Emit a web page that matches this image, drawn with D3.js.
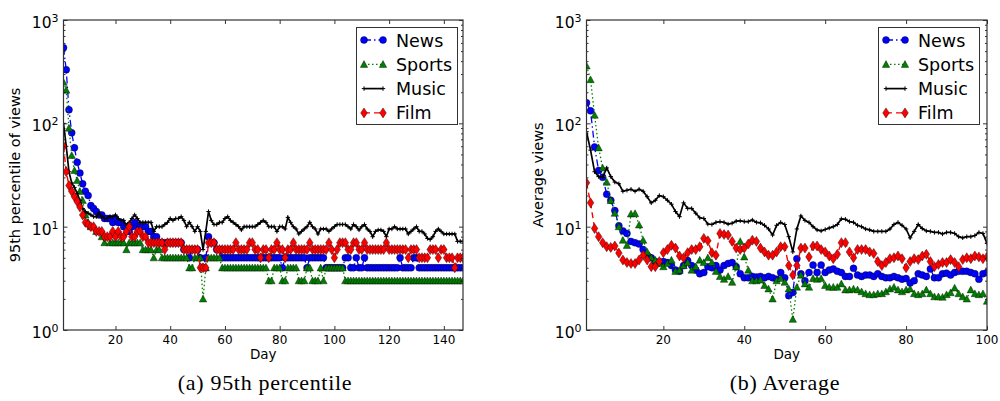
<!DOCTYPE html>
<html>
<head>
<meta charset="utf-8">
<script src="https://cdn.jsdelivr.net/npm/d3@7"></script>
<style>
  body { margin: 0; background: #fff; }
  svg { display: block; }
  text { font-family: "DejaVu Sans", sans-serif; fill: #000; }
</style>
</head>
<body>
<script>
// series names (legend order = draw order)
var seriesNames = ["News", "Sports", "Music", "Film"];

// (a) 95th percentile, days 1..147
var pctNews = [540,330,135,81,58,42,33,26,22,20,
  16,15,14,13,13,12,12,12,11,12,
  11,11,10,10,9,10,11,10,10,10,
  10,9,9,8,8,7,7,7,7,7,
  7,7,7,7,6,6,5,6,6,6,
  5,4,5,8,7,7,6,6,5,5,
  5,5,5,5,5,5,5,5,5,5,
  5,5,5,5,5,5,5,5,5,5,
  4,5,5,5,5,5,5,5,5,4,
  5,5,5,5,5,5,4,4,4,4,
  4,4,4,5,5,4,4,5,4,4,
  5,4,4,4,4,4,4,4,4,4,
  4,4,4,5,4,4,4,4,5,5,
  4,4,4,4,4,4,4,4,4,4,
  4,4,4,4,4,4,4];
var pctSports = [250,210,90,49,35,28,22,18,13,11,
  10,10,9,9,8,7,8,7,7,7,
  7,7,7,6,7,7,7,7,7,6,
  6,6,6,5,6,6,5,5,5,5,
  5,5,5,5,5,5,4,4,5,5,
  5,2,4,5,5,5,5,5,4,4,
  4,4,4,4,4,4,4,4,4,4,
  4,4,4,4,4,3,3,4,4,4,
  3,3,4,4,4,4,3,3,3,4,
  4,3,3,3,4,3,4,4,4,4,
  4,4,4,3,3,3,3,3,3,3,
  3,3,3,3,3,3,3,3,3,3,
  3,3,3,3,3,3,3,3,3,3,
  3,3,3,3,3,3,3,3,3,3,
  3,3,3,3,3,3,3];
var pctMusic = [100,60,34,26.5,24,21,18,15,14,13.5,
  13,12.5,12.5,13.5,12.5,12,12,12.5,12.5,13,
  12,11.5,11.5,10.3,11,12,13,12,11,11,
  11,11,11,9,10,10,10,10.5,11,12,
  11.5,12,12,12.5,11.5,10,11,10,9,10,
  9,6,9,14,11.5,10.5,10.5,11,11,12,
  12.5,11.5,11,10.5,10,9.3,10,10,10,10,
  10,10.5,11,11.5,11,10,10,10,9,10,
  10,9.5,12.3,11,10,9.5,8.5,9,9.5,10,
  11,10,9.5,8.5,9.5,9.5,9.5,9,9.5,10,
  10.5,10.5,10.5,10.5,10,9.5,10.5,10,9.3,10,
  10.5,9.5,9,8,9,9.3,9.3,9,8,9.5,
  9.5,10,9.5,9.5,9.5,9.5,8.5,9,9.5,10,
  9,9,8.5,7.7,7.5,8,9,9.5,9,8.5,
  8.5,8.5,8.5,8.5,7.2,7.2,7.2];
var pctFilm = [60,34,25,22,19.5,17.5,15.5,13,11,10.5,
  10,10,9,9,9,8,8,8,9,8,
  9,8,8,9,10,8,8,9,9,8,
  8,7,7,7,7,7,7,6,7,7,
  7,7,7,7,6,6,6,6,6,6,
  4,4,4,7,7,7,6,6,6,6,
  6,6,6,7,6,6,6,6,7,7,
  6,6,5,6,6,5,6,6,7,6,
  6,5,6,6,7,6,6,6,6,6,
  7,6,6,6,6,6,6,7,6,5,
  6,7,7,7,6,6,7,7,6,6,
  7,6,6,6,6,6,6,6,7,6,
  6,6,6,6,6,6,5,6,6,6,
  5,5,5,5,6,6,6,5,6,6,
  5,5,5,4,5,5,5];

// (b) Average, days 1..100
var avgNews = [158,132,59,35,30,20.6,18,14.3,10.2,9.1,
  8.6,7.2,7.0,6.8,6.0,5.3,5.0,4.6,4.5,4.6,
  4.5,4.2,3.8,3.7,4.2,4.7,4.2,3.8,3.5,3.6,
  4.1,4.0,4.2,3.8,4.2,4.4,4.5,4.1,3.5,3.2,
  3.2,3.3,3.25,3.3,3.2,3.3,3.2,3.1,3.6,3.2,
  2.15,2.3,4.9,3.5,3.0,3.6,4.25,3.6,4.25,3.6,
  3.8,3.9,3.7,3.6,3.3,3.3,3.95,3.4,3.3,3.4,
  3.4,3.3,3.5,3.3,3.2,3.2,3.3,3.2,3.1,3.15,
  2.85,3.0,3.5,3.4,3.3,3.9,3.2,3.2,3.5,3.55,
  3.4,3.6,3.7,3.7,3.7,3.6,3.5,3.1,3.5,3.6];
var avgSports = [360,265,120,58,37,27,18,13.5,10,7.4,
  6.6,13.3,13.4,10.4,7.4,5.7,5.0,4.75,4.4,4.1,
  4.4,4.75,3.7,3.8,4.2,4.5,3.8,4.1,4.75,4.5,
  5.0,4.5,3.7,3.3,3.1,3.3,2.9,4.1,7.2,5.1,
  3.8,3.0,3.0,3.05,2.7,2.5,2.0,3.0,3.15,2.9,
  2.5,1.27,2.6,3.4,2.8,2.6,3.15,3.1,3.15,2.7,
  2.6,2.6,2.6,2.8,2.45,2.45,2.5,2.45,2.35,2.25,
  2.2,2.2,2.25,2.25,2.35,2.5,2.6,2.45,2.35,2.45,
  2.5,2.25,2.2,2.25,2.45,2.25,2.1,2.1,2.08,2.2,
  2.3,2.55,2.25,2.1,2.0,2.45,2.25,2.2,2.25,1.9];
var avgMusic = [83,55,34,30.5,30,37,30.5,27,26,22,
  22.5,23,22,23,22,19.5,17,18,20,19.5,
  18,16.5,14,12.5,17,15,15,13.5,12.2,12,
  10.6,10.5,11,11.2,11,10.6,10.8,11.3,11.4,11.2,
  11.2,11.6,11.0,10.9,10.3,9.5,8.3,10.3,11,10.5,
  8,5.7,9.5,12.7,11.5,11,10,9.3,9.1,9.4,
  9.7,10,10.5,11.9,11.8,11.2,11,10.3,10,9.5,
  9.3,9,9,9,9,9.5,10.5,11,10.3,9.5,
  7.8,9,10.5,9.6,9.1,9,8.8,8.8,8.5,8.8,
  8.8,8.6,8,7.8,8,8,8.2,8.8,8.6,6.9];
var avgFilm = [26.6,17,9.6,8,7,6.4,6.3,6.5,5.55,4.75,
  4.5,4.4,4.4,4.75,5.3,4.75,4.1,4.1,4.6,5.6,
  6.0,6.6,6.2,5.2,5.0,5.6,6.0,6.0,6.4,7.7,
  7.3,5.6,5.3,8.6,8.4,8.3,7.2,6.2,6.0,6.2,
  6.8,7.4,7.2,6.2,5.7,5.3,5.3,5.7,6.4,6.4,
  4.2,3.4,4.2,6.2,6.2,5.1,6.5,6.5,6.0,5.7,
  5.2,4.9,5.4,7.0,7.0,5.7,5.0,6.0,6.0,6.0,
  5.7,5.5,4.6,4.2,4.5,4.9,5.0,5.2,4.9,4.0,
  4.6,4.9,4.8,5.2,5.4,4.6,4.1,4.3,4.5,4.5,
  4.8,4.5,4.1,4.8,5.0,4.9,5.2,5.1,4.9,5.1];

var pctXTicks = [20, 40, 60, 80, 100, 120, 140];
var avgXTicks = [20, 40, 60, 80, 100];
var yMajor = [1, 10, 100, 1000];
var yMinor = [2,3,4,5,6,7,8,9,20,30,40,50,60,70,80,90,200,300,400,500,600,700,800,900];

// one style per series
var styles = [
  {color: "#0000ff", dash: "7,3,1.5,3", marker: "circle", width: 1.3},
  {color: "#008000", dash: "1.5,2.5", marker: "triangle", width: 1.3},
  {color: "#000000", dash: null, marker: "plus", width: 1.7},
  {color: "#ff0000", dash: "6,4", marker: "diamond", width: 1.4}
];

var svg = d3.select("body").append("svg")
  .attr("width", 1000)
  .attr("height", 401);

function drawMarker(sel, kind, color) {
  if (kind === "circle") {
    sel.append("circle").attr("r", 3.5)
      .attr("fill", color).attr("stroke", "#000").attr("stroke-width", 0.4);
  } else if (kind === "triangle") {
    sel.append("path").attr("d", "M0,-3.7L3.7,3.1L-3.7,3.1Z")
      .attr("fill", color).attr("stroke", "#000").attr("stroke-width", 0.4);
  } else if (kind === "diamond") {
    sel.append("path").attr("d", "M0,-5L3.3,0L0,5L-3.3,0Z")
      .attr("fill", color).attr("stroke", "#000").attr("stroke-width", 0.4);
  } else {
    sel.append("path").attr("d", "M-2.2,0H2.2M0,-2.2V2.2")
      .attr("stroke", color).attr("stroke-width", 1).attr("fill", "none");
  }
}

function drawPanel(p, idx) {
  var top = 20, bottom = 330;
  var x = d3.scaleLinear().domain([1, p.days]).range([p.left, p.right]);
  var y = d3.scaleLog().domain([1, 1000]).range([bottom, top]);
  var g = svg.append("g");

  var clipId = "clip" + idx;
  svg.append("clipPath").attr("id", clipId)
    .append("rect")
    .attr("x", p.left).attr("y", top)
    .attr("width", p.right - p.left).attr("height", bottom - top);

  var plot = g.append("g").attr("clip-path", "url(#" + clipId + ")");

  p.series.forEach(function(vals, i) {
    var st = styles[i];
    var pts = vals.map(function(v, k) { return {day: k + 1, v: v}; });
    var line = d3.line().x(d => x(d.day)).y(d => y(d.v));
    plot.append("path")
      .datum(pts)
      .attr("d", line)
      .attr("fill", "none")
      .attr("stroke", st.color)
      .attr("stroke-width", st.width)
      .attr("stroke-dasharray", st.dash);
    var mk = plot.append("g").selectAll("g")
      .data(pts)
      .enter()
      .append("g")
      .attr("transform", d => `translate(${x(d.day)},${y(d.v)})`);
    drawMarker(mk, st.marker, st.color);
  });

  // ticks (inward) on all four sides
  function ticks(axis, tr, vals, size) {
    var a = g.append("g").attr("transform", tr)
      .call(axis.tickValues(vals).tickSize(-size).tickSizeOuter(0).tickFormat(""));
    a.select(".domain").remove();
    a.selectAll("line").attr("stroke", "#000").attr("stroke-width", 0.8);
  }
  ticks(d3.axisLeft(y), `translate(${p.left},0)`, yMajor, 4);
  ticks(d3.axisLeft(y), `translate(${p.left},0)`, yMinor, 2);
  ticks(d3.axisRight(y), `translate(${p.right},0)`, yMajor, 4);
  ticks(d3.axisRight(y), `translate(${p.right},0)`, yMinor, 2);
  ticks(d3.axisBottom(x), `translate(0,${bottom})`, p.xticks, 4);
  ticks(d3.axisTop(x), `translate(0,${top})`, p.xticks, 4);

  // frame
  g.append("rect")
    .attr("x", p.left).attr("y", top)
    .attr("width", p.right - p.left).attr("height", bottom - top)
    .attr("fill", "none").attr("stroke", "#333").attr("stroke-width", 1.2);

  // y tick labels 10^k
  yMajor.forEach(function(v) {
    var t = g.append("text")
      .attr("x", p.left - 5)
      .attr("y", y(v) + 8)
      .attr("text-anchor", "end")
      .style("font-size", "15.5px");
    t.append("tspan").text("10");
    t.append("tspan").attr("dy", -6).style("font-size", "11px").text(Math.round(Math.log10(v)));
  });

  // x tick labels
  p.xticks.forEach(function(v) {
    g.append("text")
      .attr("x", x(v)).attr("y", bottom + 14)
      .attr("text-anchor", "middle")
      .style("font-size", "12px")
      .text(v);
  });

  g.append("text")
    .attr("x", (p.left + p.right) / 2).attr("y", 359)
    .attr("text-anchor", "middle")
    .style("font-size", "13.5px")
    .text("Day");

  g.append("text")
    .attr("transform", `translate(${p.ylabelX},${(top + bottom) / 2}) rotate(-90)`)
    .attr("text-anchor", "middle")
    .style("font-size", "14.5px")
    .text(p.ylabel);

  g.append("text")
    .attr("x", p.captionX).attr("y", 390)
    .attr("text-anchor", "middle")
    .style("font-family", "'Liberation Serif', 'DejaVu Serif', serif")
    .style("font-size", "22px")
    .style("letter-spacing", "0.7px")
    .text(p.caption);

  // legend
  var lg = g.append("g").attr("transform", `translate(${p.legendX},27)`);
  lg.append("rect")
    .attr("x", 0.5).attr("y", 0.5)
    .attr("width", 101).attr("height", 97)
    .attr("fill", "#fff").attr("stroke", "#333").attr("stroke-width", 1);
  seriesNames.forEach(function(name, i) {
    var st = styles[i];
    var row = lg.append("g").attr("transform", `translate(0,${13 + i * 24.3})`);
    row.append("line")
      .attr("x1", 8).attr("x2", 27)
      .attr("stroke", st.color).attr("stroke-width", st.width)
      .attr("stroke-dasharray", st.dash);
    drawMarker(row.append("g").attr("transform", "translate(8,0)"), st.marker, st.color);
    drawMarker(row.append("g").attr("transform", "translate(27,0)"), st.marker, st.color);
    row.append("text")
      .attr("x", 40).attr("y", 6.5)
      .style("font-size", "17.5px")
      .text(name);
  });
}

drawPanel({
  left: 63.5, right: 463, days: 147, xticks: pctXTicks,
  series: [pctNews, pctSports, pctMusic, pctFilm],
  ylabel: "95th percentile of views", ylabelX: 20,
  caption: "(a) 95th percentile", captionX: 265, legendX: 356
}, 0);

drawPanel({
  left: 586.5, right: 987, days: 100, xticks: avgXTicks,
  series: [avgNews, avgSports, avgMusic, avgFilm],
  ylabel: "Average views", ylabelX: 543,
  caption: "(b) Average", captionX: 785, legendX: 878
}, 1);
</script>
</body>
</html>
